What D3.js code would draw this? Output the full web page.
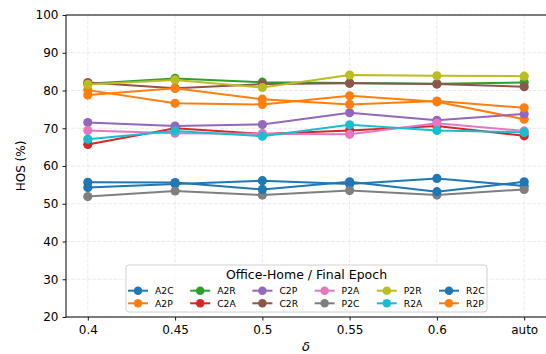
<!DOCTYPE html>
<html>
<head>
<meta charset="utf-8">
<script src="https://cdn.jsdelivr.net/npm/d3@7"></script>
<style>
  html, body { margin: 0; padding: 0; background: #fff; }
  svg { display: block; font-family: "DejaVu Sans", sans-serif; }
</style>
</head>
<body>
<svg id="chart" width="546" height="354"></svg>
<script>
// δ settings along the x axis
const deltas = ["0.4", "0.45", "0.5", "0.55", "0.6", "auto"];
const yTicks = [20, 30, 40, 50, 60, 70, 80, 90, 100];

// Office-Home domain pairs (legend order, column-major)
const tasks = ["A2C", "A2P", "A2R", "C2A", "C2P", "C2R", "P2A", "P2C", "P2R", "R2A", "R2C", "R2P"];
const colors = ["#1f77b4", "#ff7f0e", "#2ca02c", "#d62728", "#9467bd", "#8c564b",
                "#e377c2", "#7f7f7f", "#bcbd22", "#17becf", "#1f77b4", "#ff7f0e"];

// HOS (%) per task, one value per δ
const A2C = [54.3, 55.2, 56.1, 55.2, 56.7, 54.7];
const A2P = [80.1, 76.6, 76.3, 78.6, 77.0, 72.4];
const A2R = [81.8, 83.2, 82.2, 82.0, 81.8, 82.1];
const C2A = [65.7, 70.0, 68.5, 69.4, 70.6, 68.0];
const C2P = [71.5, 70.6, 71.0, 74.1, 72.1, 73.8];
const C2R = [82.1, 80.6, 81.7, 81.9, 81.7, 81.0];
const P2A = [69.4, 68.7, 68.5, 68.4, 71.3, 69.3];
const P2C = [51.9, 53.4, 52.3, 53.5, 52.3, 53.8];
const P2R = [81.6, 82.8, 80.8, 84.1, 83.9, 83.8];
const R2A = [67.1, 69.3, 67.9, 70.9, 69.4, 68.9];
const R2C = [55.7, 55.6, 53.8, 55.8, 53.2, 55.8];
const R2P = [78.8, 80.6, 77.7, 76.3, 77.2, 75.4];

const seriesValues = [A2C, A2P, A2R, C2A, C2P, C2R, P2A, P2C, P2R, R2A, R2C, R2P];
const series = tasks.map((name, i) => ({ name, color: colors[i], values: seriesValues[i] }));

const svg = d3.select("#chart");
const margin = { left: 66, top: 15, right: 0, bottom: 37 };
const W = 546, H = 354;
const plotW = W - margin.left - margin.right;
const plotH = H - margin.top - margin.bottom;

// categories sit at integer positions 0..5 with a 5% margin on each side
const idx = d3.scaleLinear().domain([-0.25, 5.25]).range([0, plotW]);
const xPos = d => idx(deltas.indexOf(d));
const y = d3.scaleLinear().domain([20, 100]).range([plotH, 0]);

const g = svg.append("g").attr("transform", `translate(${margin.left},${margin.top})`);

// dashed grid
g.append("g").selectAll("line").data(deltas).join("line")
  .attr("x1", d => xPos(d)).attr("x2", d => xPos(d))
  .attr("y1", 0).attr("y2", plotH)
  .attr("stroke", "#b0b0b0").attr("stroke-opacity", 0.3)
  .attr("stroke-width", 0.9).attr("stroke-dasharray", "3.7,1.6");
g.append("g").selectAll("line").data(yTicks).join("line")
  .attr("x1", 0).attr("x2", plotW)
  .attr("y1", d => y(d)).attr("y2", d => y(d))
  .attr("stroke", "#b0b0b0").attr("stroke-opacity", 0.3)
  .attr("stroke-width", 0.9).attr("stroke-dasharray", "3.7,1.6");

// series lines and markers
const line = d3.line().x((v, i) => xPos(deltas[i])).y(v => y(v));
const sg = g.append("g").selectAll("g.series").data(series).join("g");
sg.append("path")
  .attr("d", d => line(d.values))
  .attr("fill", "none").attr("stroke", d => d.color).attr("stroke-width", 2);
sg.selectAll("circle").data(d => d.values.map((v, i) => ({ v, i, c: d.color }))).join("circle")
  .attr("cx", d => xPos(deltas[d.i])).attr("cy", d => y(d.v))
  .attr("r", 4.6).attr("fill", d => d.c);

// axes
const xAxis = d3.axisBottom(d3.scaleOrdinal().domain(deltas).range(deltas.map(xPos)))
  .tickSize(3.5).tickPadding(5);
const yAxis = d3.axisLeft(y).tickValues(yTicks).tickSize(3.5).tickPadding(4);

const gx = g.append("g").attr("transform", `translate(0,${plotH})`).call(xAxis);
const gy = g.append("g").call(yAxis);
[gx, gy].forEach(a => {
  a.selectAll("text").attr("font-size", 12).attr("fill", "#000").attr("font-family", "DejaVu Sans");
  a.select(".domain").remove();
  a.selectAll(".tick line").attr("stroke", "#000").attr("stroke-width", 0.9);
});

// spines
g.append("line").attr("x1", 0).attr("x2", 0).attr("y1", 0).attr("y2", plotH).attr("stroke", "#000").attr("stroke-width", 1);
g.append("line").attr("x1", 0).attr("x2", plotW).attr("y1", plotH).attr("y2", plotH).attr("stroke", "#000").attr("stroke-width", 1);
g.append("line").attr("x1", 0).attr("x2", plotW).attr("y1", 0).attr("y2", 0).attr("stroke", "#000").attr("stroke-width", 1);

// axis titles
svg.append("text").attr("x", margin.left + plotW / 2).attr("y", 351)
  .attr("text-anchor", "middle").attr("font-size", 13).attr("font-style", "italic").text("δ");
svg.append("text").attr("transform", `translate(25,${margin.top + plotH / 2}) rotate(-90)`)
  .attr("text-anchor", "middle").attr("font-size", 12).text("HOS (%)");

// legend
const lg = svg.append("g").attr("transform", "translate(126,265)");
lg.append("rect").attr("width", 361).attr("height", 47).attr("rx", 3)
  .attr("fill", "#fff").attr("fill-opacity", 0.8).attr("stroke", "#d0d0d0").attr("stroke-width", 1);
lg.append("text").attr("x", 180.5).attr("y", 14).attr("text-anchor", "middle")
  .attr("font-size", 12.5).text("Office-Home / Final Epoch");
const items = lg.selectAll("g.item").data(series).join("g")
  .attr("transform", (d, i) => `translate(${2 + Math.floor(i / 2) * 62.2},${i % 2 === 0 ? 25.7 : 38.3})`);
items.append("line").attr("x1", 0).attr("x2", 20).attr("y1", 0).attr("y2", 0)
  .attr("stroke", d => d.color).attr("stroke-width", 2);
items.append("circle").attr("cx", 10).attr("cy", 0).attr("r", 4.3).attr("fill", d => d.color);
items.append("text").attr("x", 27).attr("y", 3.3).attr("font-size", 9.2).text(d => d.name);
</script>
</body>
</html>
